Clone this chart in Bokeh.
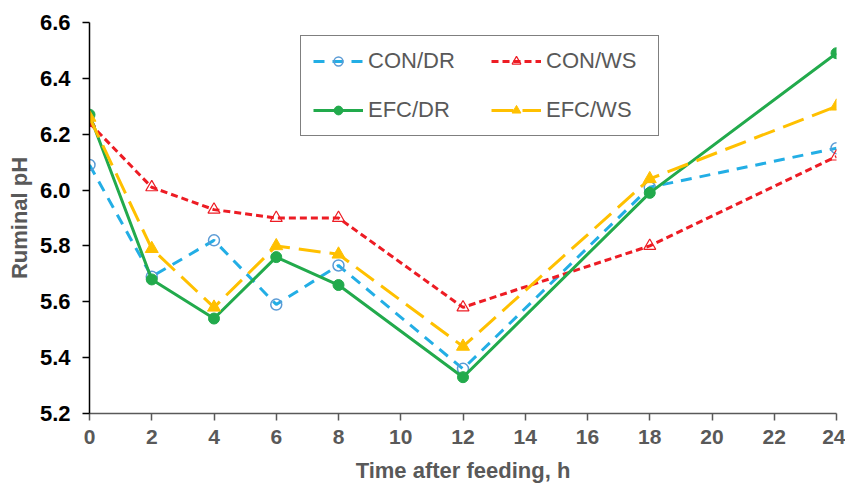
from bokeh.plotting import figure
from bokeh.models import FixedTicker, Legend, LegendItem, NumeralTickFormatter
from bokeh.embed import file_html
from bokeh.resources import INLINE

hours = [0, 2, 4, 6, 8, 12, 18, 24]
con_dr = [6.09, 5.69, 5.82, 5.59, 5.73, 5.36, 6.01, 6.15]
con_ws = [6.24, 6.01, 5.93, 5.90, 5.90, 5.58, 5.80, 6.12]
efc_dr = [6.27, 5.68, 5.54, 5.76, 5.66, 5.33, 5.99, 6.49]
efc_ws = [6.26, 5.79, 5.58, 5.80, 5.77, 5.44, 6.04, 6.30]
x_ticks = list(range(0, 25, 2))
y_ticks = [5.2, 5.4, 5.6, 5.8, 6.0, 6.2, 6.4, 6.6]

p = figure(width=845, height=485, x_range=(0, 24), y_range=(5.2, 6.6),
           output_backend="svg", toolbar_location=None,
           min_border_left=89, min_border_right=9, min_border_top=22, min_border_bottom=70)
p.outline_line_color = None
p.xgrid.grid_line_color = None
p.ygrid.grid_line_color = None

FONT = "Liberation Sans"

r1l = p.line(hours, con_dr, line_color="#23AEE5", line_width=3, line_dash="11 8")
r1m = p.scatter(hours, con_dr, marker="circle", size=11, line_color="#5B9BD5",
                line_width=1.5, fill_alpha=0)
r2l = p.line(hours, con_ws, line_color="#ED1C24", line_width=3, line_dash="7 4")
r2m = p.scatter(hours, con_ws, marker="triangle", size=12, line_color="#ED1C24",
                line_width=1.2, fill_alpha=0)
r3l = p.line(hours, efc_dr, line_color="#22AA4C", line_width=3)
r3m = p.scatter(hours, efc_dr, marker="circle", size=11, line_color="#22AA4C",
                fill_color="#22AA4C")
r4l = p.line(hours, efc_ws, line_color="#FFC000", line_width=3, line_dash="22 9")
r4m = p.scatter(hours, efc_ws, marker="triangle", size=13, line_color="#FFC000",
                fill_color="#FFC000")

legend = Legend(items=[
    LegendItem(label="CON/DR", renderers=[r1l, r1m]),
    LegendItem(label="EFC/DR", renderers=[r3l, r3m]),
    LegendItem(label="CON/WS", renderers=[r2l, r2m]),
    LegendItem(label="EFC/WS", renderers=[r4l, r4m]),
], ncols=2, location=(211, 277))
legend.label_text_font = FONT
legend.label_text_font_size = "22px"
legend.label_text_color = "#595959"
legend.glyph_width = 50
legend.glyph_height = 22
legend.label_height = 22
legend.label_width = 100
legend.label_standoff = 5
legend.spacing = 23
legend.padding = 12
legend.margin = 0
legend.border_line_color = "black"
legend.border_line_width = 1
legend.background_fill_color = "white"
legend.background_fill_alpha = 1
p.add_layout(legend, "center")

p.xaxis.ticker = FixedTicker(ticks=x_ticks)
p.yaxis.ticker = FixedTicker(ticks=y_ticks)
p.yaxis.formatter = NumeralTickFormatter(format="0.0")
p.xaxis.minor_tick_line_color = None
p.yaxis.minor_tick_line_color = None
p.xaxis.major_tick_in = 0
p.xaxis.major_tick_out = 7
p.yaxis.major_tick_in = 0
p.yaxis.major_tick_out = 7
p.xaxis.axis_line_color = "#595959"
p.xaxis.major_tick_line_color = "#595959"
p.xaxis.axis_line_width = 1.5
p.xaxis.major_tick_line_width = 1.5
p.yaxis.axis_line_color = "black"
p.yaxis.major_tick_line_color = "black"
p.yaxis.axis_line_width = 1.5
p.yaxis.major_tick_line_width = 1.5

p.xaxis.major_label_text_font = FONT
p.xaxis.major_label_text_font_size = "21px"
p.xaxis.major_label_text_font_style = "bold"
p.xaxis.major_label_text_color = "#595959"
p.xaxis.major_label_standoff = 9
p.yaxis.major_label_text_font = FONT
p.yaxis.major_label_text_font_size = "22px"
p.yaxis.major_label_text_font_style = "bold"
p.yaxis.major_label_text_color = "black"
p.yaxis.major_label_standoff = 12

p.xaxis.axis_label = "Time after feeding, h"
p.yaxis.axis_label = "Ruminal pH"
for ax in (p.xaxis, p.yaxis):
    ax.axis_label_text_font = FONT
    ax.axis_label_text_font_size = "22px"
    ax.axis_label_text_font_style = "bold"
    ax.axis_label_text_color = "#595959"
p.xaxis.axis_label_standoff = 11
p.yaxis.axis_label_standoff = 5

open("out.html", "w").write(file_html(p, INLINE))
